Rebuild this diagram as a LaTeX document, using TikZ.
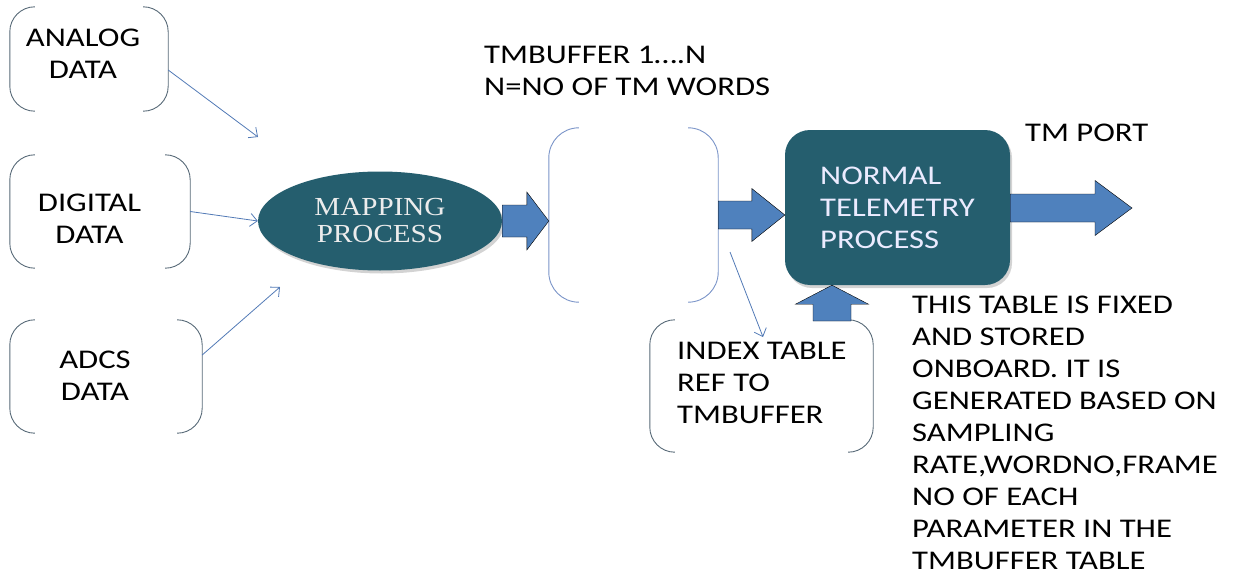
\documentclass[tikz,border=0pt]{standalone}
\usepackage{fontspec}
\setmainfont{Carlito}[FakeStretch=1.21]
\newfontfamily\procfont{Liberation Serif}[FakeStretch=1.12]
\usetikzlibrary{positioning,shapes.geometric,arrows.meta,calc,shadows}

\definecolor{tealfill}{RGB}{37,94,110}
\definecolor{arrowblue}{RGB}{79,129,189}
\definecolor{brackgray}{RGB}{88,106,120}
\definecolor{bufblue}{RGB}{122,148,200}
\definecolor{thinblue}{RGB}{82,122,182}

% left and right brackets round an (empty) node
\newcommand\bracketbox[3][brackline]{%
  \draw[#1, rounded corners=#3] ([xshift=#3]#2.north west) -- (#2.north west) -- (#2.south west) -- ([xshift=#3]#2.south west)
    ([xshift=-#3]#2.north east) -- (#2.north east) -- (#2.south east) -- ([xshift=-#3]#2.south east);}

\tikzset{
  lbl/.style={font=\fontsize{27}{32}\selectfont, inner sep=0pt},
  brackline/.style={draw=brackgray, line width=0.9pt},
  bufline/.style={draw=bufblue, line width=0.9pt},
  brackshape/.style={draw=none, inner sep=0pt},
  feed/.style={draw=thinblue, line width=0.8pt, -{Straight Barb[length=7pt,width=13pt]}},
  fatarrow/.style n args={3}{fill=arrowblue, to path={
    let \p1=($(\tikztotarget)!#3!(\tikztostart)$) in
    ($(\tikztostart)!#1!90:(\tikztotarget)$) -- ($(\p1)!#1!90:(\tikztotarget)$)
    -- ($(\p1)!#2!90:(\tikztotarget)$) -- (\tikztotarget)
    -- ($(\p1)!#2!-90:(\tikztotarget)$) -- ($(\p1)!#1!-90:(\tikztotarget)$)
    -- ($(\tikztostart)!#1!-90:(\tikztotarget)$) -- cycle}},
  process/.style={fill=tealfill, draw=none, text=white!92!blue,
    drop shadow={opacity=0.35, shadow xshift=2pt, shadow yshift=-3pt}},
}

\begin{document}
\begin{tikzpicture}[x=1pt,y=-1pt]
  \useasboundingbox (0,0) rectangle (1233,575);

  % source boxes
  \node[brackshape, minimum width=158pt, minimum height=104pt] (analog) at (89,59) {};
  \node[brackshape, minimum width=180pt, minimum height=113pt] (digital) at (100,211.5) {};
  \node[brackshape, minimum width=192pt, minimum height=113pt] (adcs) at (106,376.5) {};
  \bracketbox{analog}{25pt}
  \bracketbox{digital}{25pt}
  \bracketbox{adcs}{25pt}
  \node[lbl, align=center] (analogtxt) at (83,54) {ANALOG\\DATA};
  \node[lbl, align=center] (digitaltxt) at (89.5,219) {DIGITAL\\DATA};
  \node[lbl, align=center] (adcstxt) at (95,376) {ADCS\\DATA};

  % mapping
  \node[process, ellipse, minimum width=244pt, minimum height=99pt,
        font=\procfont\fontsize{26}{27}\selectfont, align=center, text=white!85!gray] (map) at (380,221) {MAPPING\\PROCESS};

  \coordinate (in1) at (258,137);
  \coordinate (in3) at (280,287);
  \draw[feed] ([yshift=-11pt]analog.east) -- (in1);
  \draw[feed] (digital.east) -- (map.west);
  \draw[feed] ([yshift=21.5pt]adcs.east) -- (in3);

  % tm buffer
  \node[brackshape, minimum width=169pt, minimum height=174pt] (buf) at (633.5,215) {};
  \bracketbox[bufline]{buf}{30pt}
  \node[lbl, anchor=west, align=left] (buftxt) at (484,70.5) {TMBUFFER 1\dots.N\\N=NO OF TM WORDS};
  \draw[fatarrow={16pt}{29pt}{22pt}] (map.east) to (map.east -| buf.west);

  % normal telemetry
  \node[process, rounded corners=25pt, minimum width=225pt, minimum height=155pt,
        lbl, align=left, text=white!92!blue] (ntp) at (897.5,207.5) {NORMAL\\TELEMETRY\\PROCESS};
  \draw[fatarrow={14pt}{26.5pt}{33pt}] (buf.east) to (buf.east -| ntp.west);

  \coordinate (tmport) at (1132,208);
  \draw[fatarrow={14pt}{27.5pt}{37pt}] (ntp.east |- tmport) to (tmport);
  \node[lbl, anchor=west] (tmporttxt) at (1025,133) {TM PORT};

  % index table
  \node[brackshape, minimum width=223pt, minimum height=132pt] (idx) at (761.5,386) {};
  \bracketbox{idx}{25pt}
  \node[lbl, anchor=west, align=left] (idxtxt) at (677,383) {INDEX TABLE\\REF TO\\TMBUFFER};
  \coordinate (idxfrom) at (730,252);
  \coordinate (idxin) at (763,337);
  \draw[feed] (idxfrom) -- (idxin);

  \coordinate (upfoot) at (832,321);
  \draw[fatarrow={19pt}{36.5pt}{19pt}] (upfoot) to (upfoot |- ntp.south);

  \node[lbl, anchor=west, align=left] (note) at (912,433) {THIS TABLE IS FIXED\\AND STORED\\ONBOARD. IT IS\\GENERATED BASED ON\\SAMPLING\\RATE,WORDNO,FRAME\\NO OF EACH\\PARAMETER IN THE\\TMBUFFER TABLE};
\end{tikzpicture}
\end{document}
